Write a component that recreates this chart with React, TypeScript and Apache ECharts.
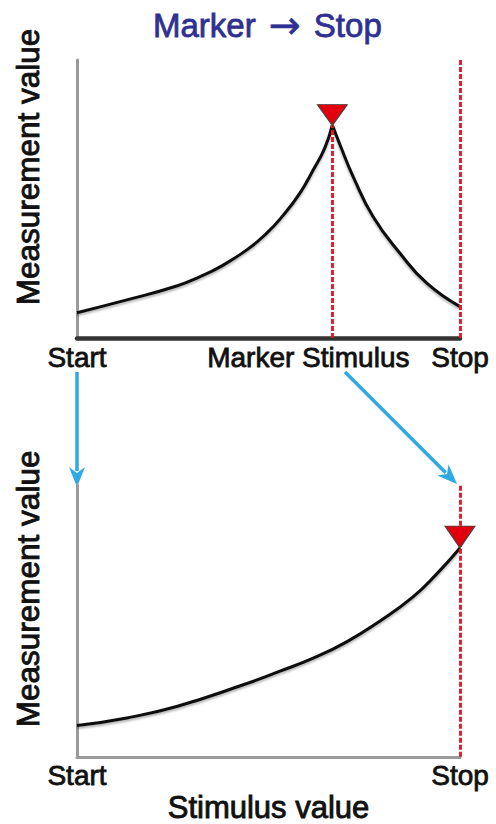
import React, { useEffect, useRef } from 'react';
import * as echarts from 'echarts';

// ---- text ----
const TITLE_LEFT = 'Marker';
const TITLE_ARROW = '→';
const TITLE_RIGHT = 'Stop';
const Y_NAME = 'Measurement value';
const X_NAME = 'Stimulus value';

// ---- tick labels ----
const topTickValues = [0, 100, 150];
const topTickLabels = ['Start', 'Marker Stimulus', 'Stop'];
const bottomTickValues = [0, 150];
const bottomTickLabels = ['Start', 'Stop'];

// ---- series values (stimulus 0..150, measurement 0..100) ----
const topRiseX = [0, 19.5, 39, 48.2, 56, 66.5, 74.3, 80.8, 87.3, 92.5, 97.1, 100];
const topRiseY = [9.1, 13.7, 18.7, 22.1, 25.6, 31.7, 37.7, 44.2, 52.1, 60.4, 68.5, 76.6];
const topFallX = [100, 103, 108.2, 116, 126.5, 137, 150];
const topFallY = [76.6, 69.5, 58, 43.6, 30.5, 19.7, 11.3];
const bottomX = [0, 19.5, 39, 65.1, 79.5, 92.5, 105.6, 118.7, 131.7, 140.9, 150];
const bottomY = [11.5, 14.3, 18.5, 26.5, 31.5, 36.3, 42.3, 50, 58.9, 67.3, 76.8];

const markerTop = [100, 76.6];
const markerBottom = [150, 76.8];
const markerLineX = 100;
const stopLineX = 150;

const FONT = 'Liberation Sans, Arial, sans-serif';
const RED = '#e3141e';
const BLUE = '#2fa9e4';
const NAVY = '#2e3192';
const INK = '#111';

const zip = (xs: number[], ys: number[]) => xs.map((x, i) => [x, ys[i]]);

const thick = (color: string, w = 0.9) => ({ textBorderColor: color, textBorderWidth: w });

const redLine = {
  symbol: ['none', 'none'],
  silent: true,
  label: { show: false },
  lineStyle: { color: RED, width: 3, type: [5, 2], opacity: 0.95 },
};

const curveStyle = {
  color: INK,
  width: 3,
  shadowColor: 'rgba(0,0,0,0.3)',
  shadowBlur: 2,
  shadowOffsetY: 2,
};

const arrow = (x1: number, y1: number, x2: number, y2: number) => {
  const len = 20;
  const half = 8;
  const dx = x2 - x1;
  const dy = y2 - y1;
  const d = Math.sqrt(dx * dx + dy * dy);
  const ux = dx / d;
  const uy = dy / d;
  const bx = x2 - ux * len;
  const by = y2 - uy * len;
  return [
    {
      type: 'line',
      shape: { x1, y1, x2: bx + ux * 4, y2: by + uy * 4 },
      style: { stroke: BLUE, lineWidth: 3.5 },
      silent: true,
    },
    {
      type: 'polygon',
      shape: {
        points: [
          [x2, y2],
          [bx - uy * half, by + ux * half],
          [bx + ux * 6, by + uy * 6],
          [bx + uy * half, by - ux * half],
        ],
      },
      style: { fill: BLUE },
      silent: true,
    },
  ];
};

export default function App() {
  const ref = useRef<HTMLDivElement>(null);

  useEffect(() => {
    document.body.style.margin = '0';
    if (!ref.current) return;
    const chart = echarts.init(ref.current, undefined, { renderer: 'svg' });

    const grids = [
      { left: 77, top: 60, width: 383, height: 278 },
      { left: 77, top: 485, width: 383, height: 280 },
    ];

    const tickLabel = (values: number[], labels: string[]) => (v: number) => {
      const i = values.indexOf(v);
      if (i < 0) return '';
      if (labels[i] === 'Marker Stimulus') return '{m|' + labels[i] + '}';
      return labels[i];
    };

    const labelStyle = {
      fontSize: 28,
      color: INK,
      fontFamily: FONT,
      ...thick(INK, 0.8),
    };

    const yAxisCommon = (gridIndex: number) => ({
      type: 'value',
      gridIndex,
      min: 0,
      max: 100,
      name: Y_NAME,
      nameLocation: 'middle',
      nameGap: 33,
      nameTextStyle: {
        fontSize: 31.5,
        color: INK,
        fontFamily: FONT,
        padding: [0, 0, 0, 64],
        ...thick(INK, 0.9),
      },
      axisLine: { show: true, lineStyle: { color: '#9a9a9a', width: 3 } },
      axisTick: { show: false },
      axisLabel: { show: false },
      splitLine: { show: false },
    });

    const option: any = {
      animation: false,
      backgroundColor: '#ffffff',
      title: {
        text: '{t|' + TITLE_LEFT + '} {a|' + TITLE_ARROW + '} {t|' + TITLE_RIGHT + '}',
        left: 153,
        top: 6,
        padding: 0,
        textStyle: {
          fontSize: 33,
          fontWeight: 'normal',
          color: NAVY,
          fontFamily: FONT,
          rich: {
            t: { fontSize: 33, color: NAVY, fontFamily: FONT, ...thick(NAVY, 0.8) },
            a: {
              fontSize: 38,
              color: NAVY,
              fontFamily: 'DejaVu Sans, sans-serif',
              padding: [0, 4, 0, 4],
              ...thick(NAVY, 0.6),
            },
          },
        },
      },
      grid: grids,
      xAxis: [
        {
          type: 'value',
          gridIndex: 0,
          min: 0,
          max: 150,
          axisLine: { show: true, lineStyle: { color: '#333', width: 4.5 } },
          axisTick: { show: false },
          splitLine: { show: false },
          axisLabel: {
            customValues: topTickValues,
            formatter: tickLabel(topTickValues, topTickLabels),
            margin: 5,
            ...labelStyle,
            rich: {
              m: { ...labelStyle, padding: [0, 48, 0, 0] },
            },
          },
        },
        {
          type: 'value',
          gridIndex: 1,
          min: 0,
          max: 150,
          name: X_NAME,
          nameLocation: 'middle',
          nameGap: 26,
          nameTextStyle: { fontSize: 31, color: INK, fontFamily: FONT, ...thick(INK, 0.9) },
          axisLine: { show: true, lineStyle: { color: '#9a9a9a', width: 3 } },
          axisTick: { show: false },
          splitLine: { show: false },
          axisLabel: {
            customValues: bottomTickValues,
            formatter: tickLabel(bottomTickValues, bottomTickLabels),
            margin: 5,
            ...labelStyle,
          },
        },
      ],
      yAxis: [yAxisCommon(0), yAxisCommon(1)],
      series: [
        {
          name: 'rise',
          type: 'line',
          xAxisIndex: 0,
          yAxisIndex: 0,
          data: zip(topRiseX, topRiseY),
          smooth: 0.5,
          symbol: 'none',
          clip: false,
          lineStyle: curveStyle,
          markLine: {
            ...redLine,
            data: [
              [{ coord: [markerLineX, 0] }, { coord: [markerLineX, markerTop[1]] }],
              [{ coord: [stopLineX, 0] }, { coord: [stopLineX, 100] }],
            ],
          },
        },
        {
          name: 'fall',
          type: 'line',
          xAxisIndex: 0,
          yAxisIndex: 0,
          data: zip(topFallX, topFallY),
          smooth: 0.5,
          symbol: 'none',
          clip: false,
          lineStyle: curveStyle,
        },
        {
          name: 'markerTop',
          type: 'scatter',
          xAxisIndex: 0,
          yAxisIndex: 0,
          data: [markerTop],
          symbol: 'triangle',
          symbolRotate: 180,
          symbolSize: [30, 21],
          symbolOffset: [0, -10],
          clip: false,
          z: 5,
          itemStyle: { color: '#e2000f', borderColor: '#444', borderWidth: 1, opacity: 1 },
        },
        {
          name: 'bottom',
          type: 'line',
          xAxisIndex: 1,
          yAxisIndex: 1,
          data: zip(bottomX, bottomY),
          smooth: 0.5,
          symbol: 'none',
          clip: false,
          lineStyle: curveStyle,
          markLine: {
            ...redLine,
            data: [[{ coord: [stopLineX, 0] }, { coord: [stopLineX, 100] }]],
          },
        },
        {
          name: 'markerBottom',
          type: 'scatter',
          xAxisIndex: 1,
          yAxisIndex: 1,
          data: [markerBottom],
          symbol: 'triangle',
          symbolRotate: 180,
          symbolSize: [30, 22],
          symbolOffset: [0, -11],
          clip: false,
          z: 5,
          itemStyle: { color: '#e2000f', borderColor: '#444', borderWidth: 1, opacity: 1 },
        },
      ],
      graphic: [...arrow(77, 372, 77, 487), ...arrow(345, 372, 457, 484)],
    };

    chart.setOption(option);
    return () => chart.dispose();
  }, []);

  return <div ref={ref} style={{ width: 496, height: 824 }} />;
}
